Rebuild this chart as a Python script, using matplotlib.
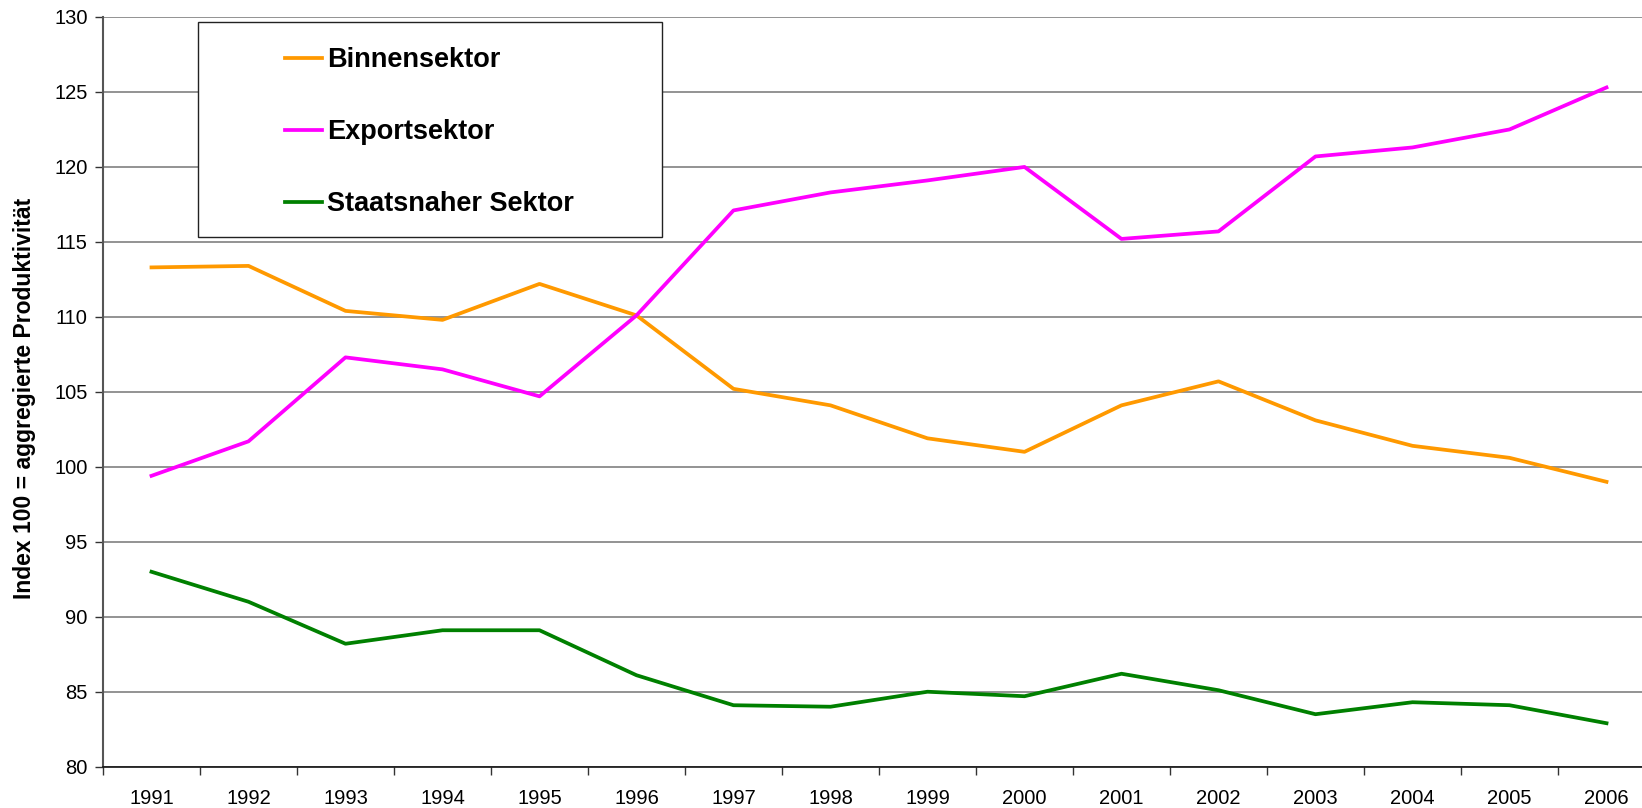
import matplotlib
matplotlib.use("Agg")
import matplotlib.pyplot as plt
from matplotlib.patches import Rectangle

plt.rcParams['font.family'] = ['Liberation Sans', 'DejaVu Sans']

years = ["1991", "1992", "1993", "1994", "1995", "1996", "1997", "1998",
         "1999", "2000", "2001", "2002", "2003", "2004", "2005", "2006"]
binnen = [113.3, 113.4, 110.4, 109.8, 112.2, 110.1, 105.2, 104.1,
          101.9, 101.0, 104.1, 105.7, 103.1, 101.4, 100.6, 99.0]
export = [99.4, 101.7, 107.3, 106.5, 104.7, 110.1, 117.1, 118.3,
          119.1, 120.0, 115.2, 115.7, 120.7, 121.3, 122.5, 125.3]
staat = [93.0, 91.0, 88.2, 89.1, 89.1, 86.1, 84.1, 84.0,
         85.0, 84.7, 86.2, 85.1, 83.5, 84.3, 84.1, 82.9]
labels = ["Binnensektor", "Exportsektor", "Staatsnaher Sektor"]
colors = ["#FF9900", "#FF00FF", "#008000"]
yticks = list(range(80, 131, 5))

W, H = 1642, 808
fig = plt.figure(figsize=(W / 100, H / 100), dpi=100)
left, right, top, bottom = 103, 1655, 17, 766.7
ax = fig.add_axes([left / W, 1 - bottom / H, (right - left) / W, (bottom - top) / H])

x = list(range(len(years)))
lines = []
for vals, c, lab in zip([binnen, export, staat], colors, labels):
    ln, = ax.plot(x, vals, color=c, lw=2.7, label=lab, zorder=3)
    lines.append(ln)

ax.set_xlim(-0.5, len(years) - 0.5)
ax.set_ylim(80, 130)
ax.set_yticks(yticks)
ax.set_yticklabels([str(v) for v in yticks], fontsize=14.5)
ax.set_xticks([i - 0.5 for i in range(len(years) + 1)])
ax.set_xticklabels([""] * (len(years) + 1))
ax.set_xticks(x, minor=True)
ax.set_xticklabels(years, minor=True, fontsize=14.5)
ax.tick_params(axis='x', which='minor', length=0, pad=16)
ax.tick_params(axis='x', which='major', length=5.5, width=1, color='#333333', direction='out')
ax.tick_params(axis='y', length=6, width=1, color='#333333', direction='out', pad=5)
ax.yaxis.grid(True, color='#808080', lw=1.2)
ax.set_axisbelow(True)
for s in ['top', 'right']:
    ax.spines[s].set_visible(False)
ax.spines['left'].set_color('#555555')
ax.spines['left'].set_linewidth(1.5)
ax.spines['bottom'].set_color('#111111')
ax.spines['bottom'].set_linewidth(1.2)

fig.text(25 / W, 1 - 398 / H, "Index 100 = aggregierte Produktivität", rotation=90,
         fontsize=16.5, fontweight='bold', ha='center', va='center')

# legend box
rect = Rectangle((197.7 / W, 1 - 236.7 / H), (661.7 - 197.7) / W, (236.7 - 22.3) / H,
                 transform=fig.transFigure, facecolor='white', edgecolor='#222222', lw=1.0, zorder=5)
fig.add_artist(rect)
leg = fig.legend(handles=lines, labels=labels, loc='upper left',
                 bbox_to_anchor=(285 / W, 1 - 47 / H), frameon=False,
                 prop={'size': 19.5, 'weight': 'bold'}, handlelength=1.35,
                 handletextpad=0.2, labelspacing=1.7, borderpad=0, borderaxespad=0)
leg.set_zorder(6)

fig.savefig("out.png", dpi=100)
